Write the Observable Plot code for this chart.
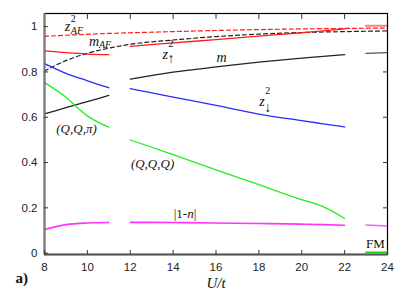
<!DOCTYPE html>
<html>
<head>
<meta charset="utf-8">
<script src="https://cdn.jsdelivr.net/npm/d3@7"></script>
<script src="https://cdn.jsdelivr.net/npm/@observablehq/plot@0.6"></script>
<style>
  html, body { margin: 0; padding: 0; background: #fff; }
  #chart svg { display: block; }
</style>
</head>
<body>
<div id="chart"></div>
<script>
// ---- data ----
const xTicks = [8, 10, 12, 14, 16, 18, 20, 22, 24];
const yTicks = [0, 0.2, 0.4, 0.6, 0.8, 1];
const yTickLabels = ["0", "0.2", "0.4", "0.6", "0.8", "1"];

const U_full = [8, 9, 10, 11, 12, 14, 16, 18, 20, 22, 24];
const U_low = [8, 9, 10, 11];
const U_low_g = [8, 9, 9.5, 10, 11];
const U_mid = [12, 14, 16, 18, 20, 21, 22];
const U_high = [23, 24];

// dashed curves
const z2AF = [0.957, 0.962, 0.966, 0.970, 0.973, 0.978, 0.983, 0.987, 0.990, 0.992, 0.994];
const z2up = [0.804, 0.850, 0.882, 0.905, 0.922, 0.941, 0.956, 0.967, 0.974, 0.978, 0.981];

// m_AF (red)
const mAF_low = [0.893, 0.885, 0.879, 0.876];
const mAF_mid = [0.913, 0.928, 0.943, 0.958, 0.973, 0.981, 0.990];
const mAF_high = [1.004, 1.004];

// m (black)
const m_low = [0.615, 0.642, 0.669, 0.696];
const m_mid = [0.768, 0.799, 0.822, 0.843, 0.861, 0.869, 0.876];
const m_high = [0.882, 0.885];

// z^2 down (blue)
const z2dn_low = [0.837, 0.794, 0.761, 0.730];
const z2dn_mid = [0.726, 0.689, 0.652, 0.614, 0.585, 0.571, 0.557];

// order parameters (green)
const QQpi = [0.753, 0.688, 0.645, 0.606, 0.556];
const QQQ = [0.500, 0.435, 0.368, 0.302, 0.236, 0.205, 0.153];
const FM = [0.003, 0.003];

// |1-n| (magenta)
const dens_low = [0.104, 0.126, 0.133, 0.135];
const dens_mid = [0.136, 0.135, 0.133, 0.131, 0.128, 0.126, 0.123];
const dens_high = [0.124, 0.120];

// ---- build tables ----
const rows = (key, U, v) => U.map((u, i) => ({key, U: u, v: v[i]}));
const solidSeries = [
  {color: "#ff1a1a", width: 1.3, rows: rows("mAF1", U_low, mAF_low)},
  {color: "#ff1a1a", width: 1.3, rows: rows("mAF2", U_mid, mAF_mid)},
  {color: "#ff8080", width: 2.2, rows: rows("mAF3", U_high, mAF_high)},
  {color: "#222", width: 1.3, rows: rows("m1", U_low, m_low)},
  {color: "#222", width: 1.3, rows: rows("m2", U_mid, m_mid)},
  {color: "#555", width: 1.3, rows: rows("m3", U_high, m_high)},
  {color: "#2a2aff", width: 1.3, rows: rows("zd1", U_low, z2dn_low)},
  {color: "#2a2aff", width: 1.3, rows: rows("zd2", U_mid, z2dn_mid)},
  {color: "#22ee22", width: 1.3, rows: rows("g1", U_low_g, QQpi)},
  {color: "#22ee22", width: 1.3, rows: rows("g2", U_mid, QQQ)},
  {color: "#22cc22", width: 1.8, rows: rows("g3", U_high, FM)},
  {color: "#ff33ff", width: 1.6, rows: rows("n1", U_low, dens_low)},
  {color: "#ff33ff", width: 1.6, rows: rows("n2", U_mid, dens_mid)},
  {color: "#ff55ff", width: 1.6, rows: rows("n3", U_high, dens_high)}
];

// labels: anchored at data coordinates (baseline, left)
const serif = "Liberation Serif, Times New Roman, serif";
const mainLabels = [
  {t: "z", U: 8.95, v: 0.982, style: "italic", size: 14},
  {t: "m", U: 10.07, v: 0.916, style: "italic", size: 14},
  {t: "z", U: 13.50, v: 0.857, style: "italic", size: 14},
  {t: "m", U: 16.02, v: 0.843, style: "italic", size: 14},
  {t: "z", U: 18.02, v: 0.650, style: "italic", size: 14},
  {t: "(Q,Q,π)", U: 8.55, v: 0.532, style: "italic", size: 13},
  {t: "(Q,Q,Q)", U: 12.03, v: 0.376, style: "italic", size: 13},
  {t: "|1-n|", U: 14.03, v: 0.155, style: "normal", size: 13},
  {t: "FM", U: 23.0, v: 0.022, style: "normal", size: 13}
];
const supLabels = [
  {t: "2", U: 8.95, v: 0.982, dx: 6, dy: -9},
  {t: "2", U: 13.50, v: 0.857, dx: 6, dy: -12},
  {t: "2", U: 18.02, v: 0.650, dx: 6, dy: -12}
];
const subLabels = [
  {t: "AF", U: 8.95, v: 0.982, dx: 6, dy: 3, size: 10, style: "italic"},
  {t: "AF", U: 10.07, v: 0.916, dx: 10, dy: 2, size: 10, style: "italic"},
  {t: "↑", U: 13.50, v: 0.857, dx: 5, dy: 4, size: 14, style: "normal"},
  {t: "↓", U: 18.02, v: 0.650, dx: 5, dy: 6, size: 14, style: "normal"}
];

const width = 407, height = 291;
const sans = "Liberation Sans, Arial, sans-serif";

const marks = [
  // dashed curves
  Plot.line(rows("z2AF", U_full, z2AF), {x: "U", y: "v", stroke: "#ff1a1a", strokeWidth: 1.2, strokeDasharray: "4,3", curve: "monotone-x"}),
  Plot.line(rows("z2up", U_full, z2up), {x: "U", y: "v", stroke: "#222", strokeWidth: 1.2, strokeDasharray: "4,3", curve: "monotone-x"}),
  // solid segments
  ...solidSeries.map(s => Plot.line(s.rows, {x: "U", y: "v", stroke: s.color, strokeWidth: s.width, curve: "monotone-x"})),
  // frame & axes
  Plot.frame({stroke: "#000", strokeWidth: 1.2}),
  Plot.ruleX([8], {stroke: "#7a7a7a", strokeWidth: 2.2}),
  Plot.ruleY([-0.006], {stroke: "#555", strokeWidth: 2}),
  Plot.axisX({anchor: "bottom", ticks: xTicks, tickSize: -4, tickFormat: () => "", label: null, stroke: "#333"}),
  Plot.axisX({anchor: "top", ticks: xTicks.slice(1, -1), tickSize: -5, tickFormat: () => "", label: null, stroke: "#333"}),
  Plot.axisX({anchor: "bottom", ticks: xTicks, tickSize: 0, tickPadding: 8, label: null, fontSize: 11.5, fontFamily: sans, fill: "#222"}),
  Plot.axisY({anchor: "left", ticks: yTicks, tickSize: -4, tickFormat: () => "", label: null, stroke: "#333"}),
  Plot.axisY({anchor: "right", ticks: yTicks.slice(1, -1), tickSize: -5, tickFormat: () => "", label: null, stroke: "#333"}),
  Plot.axisY({anchor: "left", ticks: yTicks, tickSize: 0, tickPadding: 7, tickFormat: d => yTickLabels[yTicks.indexOf(d)], label: null, fontSize: 11.5, fontFamily: sans, fill: "#222"}),
  // curve labels
  ...mainLabels.map(l => Plot.text([l], {x: "U", y: "v", text: "t", textAnchor: "start", lineAnchor: "bottom", fontSize: l.size, fontStyle: l.style, fontFamily: serif, fill: "#111"})),
  ...supLabels.map(l => Plot.text([l], {x: "U", y: "v", text: "t", textAnchor: "start", lineAnchor: "bottom", dx: l.dx, dy: l.dy, fontSize: 10, fontFamily: serif, fill: "#111"})),
  ...subLabels.map(l => Plot.text([l], {x: "U", y: "v", text: "t", textAnchor: "start", lineAnchor: "bottom", dx: l.dx, dy: l.dy, fontSize: l.size, fontStyle: l.style, fontFamily: serif, fill: "#111"})),
  // axis title and panel label
  Plot.text(["U/t"], {frameAnchor: "bottom", lineAnchor: "bottom", dy: 33, fontSize: 15, fontStyle: "italic", fontFamily: serif, fill: "#111"}),
  Plot.text(["a)"], {frameAnchor: "bottom-left", textAnchor: "start", lineAnchor: "bottom", dx: -29, dy: 28, fontSize: 15, fontWeight: "bold", fontFamily: serif, fill: "#111"})
];

const chart = Plot.plot({
  width, height,
  marginLeft: 44, marginRight: 20, marginTop: 13, marginBottom: 37,
  x: {domain: [8, 24]},
  y: {domain: [-0.006, 1.058]},
  style: {background: "#fff", overflow: "visible"},
  marks
});

// italic n inside |1-n|
d3.select(chart).selectAll("text").each(function() {
  if (this.textContent === "|1-n|") {
    const t = d3.select(this);
    t.text("");
    t.append("tspan").text("|1-");
    t.append("tspan").attr("font-style", "italic").text("n");
    t.append("tspan").text("|");
  }
});

document.getElementById("chart").appendChild(chart);
</script>
</body>
</html>
